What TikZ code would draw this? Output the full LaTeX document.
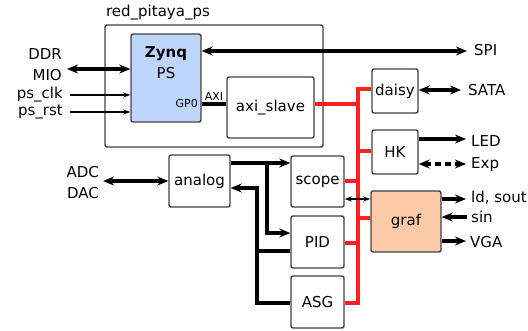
\documentclass[tikz,border=0pt]{standalone}
\usepackage{fontspec}
\setmainfont{DejaVu Sans}
\usetikzlibrary{arrows.meta}
\definecolor{psblue}{RGB}{190,214,250}
\definecolor{grafpeach}{RGB}{251,202,166}
\definecolor{busred}{RGB}{255,32,32}
\definecolor{edgegray}{RGB}{64,64,64}
\tikzset{
  blk/.style={draw=edgegray,line width=1.4pt,rounded corners=2pt,fill=white,inner sep=0pt,font=\fontsize{15}{18}\selectfont},
  lbl/.style={inner sep=0pt,font=\fontsize{15}{18}\selectfont},
  tiny/.style={inner sep=0pt,font=\fontsize{11}{13}\selectfont},
  sig/.style={line width=3.2pt},
  wire/.style={line width=1.2pt,>={Stealth[length=7pt,width=5pt]}},
  bus/.style={line width=3.2pt,draw=busred}
}
\begin{document}
\begin{tikzpicture}[x=1pt,y=-1pt,>={Stealth[length=11pt,width=9pt]}]
  \useasboundingbox (0,0) rectangle (528,331);
  \node[blk,fill=none,minimum width=218pt,minimum height=122pt] (ps) at (214,86) {};
  \node[lbl,anchor=base] (pstitle) at (158,17) {red\_pitaya\_ps};
  \node[blk,fill=psblue,minimum width=70pt,minimum height=88pt] (zynq) at (166,78) {};
  \node[lbl,anchor=base] (zynqname) at (166,58) {\textbf{Zynq}};
  \node[lbl,anchor=base] (zynqps) at (166,79) {PS};
  \node[tiny,anchor=base east] (gp) at (198,108) {GP0};
  \node[blk,minimum width=87pt,minimum height=61pt] (axi) at (270.5,107.5) {axi\_slave};
  \node[blk,minimum width=46pt,minimum height=44pt] (daisy) at (395,91) {daisy};
  \node[blk,minimum width=46pt,minimum height=44pt] (hk) at (395,152) {HK};
  \node[blk,fill=grafpeach,minimum width=70pt,minimum height=61pt] (graf) at (406,221.5) {graf};
  \node[blk,minimum width=53pt,minimum height=51pt] (scope) at (317.5,181.5) {scope};
  \node[blk,minimum width=53pt,minimum height=52pt] (pid) at (317.5,242) {PID};
  \node[blk,minimum width=53pt,minimum height=52pt] (asg) at (317.5,302) {ASG};
  \node[blk,minimum width=61pt,minimum height=52pt] (analog) at (199.5,181) {analog};

  \node[lbl,anchor=base west] (spi) at (474,56) {SPI};
  \node[lbl,anchor=base east] (ddr) at (62,60) {DDR};
  \node[lbl,anchor=base east] (mio) at (62,81) {MIO};
  \node[lbl,anchor=base east] (clk) at (63,99) {ps\_clk};
  \node[lbl,anchor=base east] (rst) at (63,116) {ps\_rst};
  \node[lbl,anchor=base east] (adc) at (99,178) {ADC};
  \node[lbl,anchor=base east] (dac) at (99,199) {DAC};
  \node[lbl,anchor=base west] (sata) at (468,96) {SATA};
  \node[lbl,anchor=base west] (led) at (471,147) {LED};
  \node[lbl,anchor=base west] (exp) at (471,169) {Exp};
  \node[lbl,anchor=base west] (ld) at (471,203) {ld, sout};
  \node[lbl,anchor=base west] (sin) at (471,223) {sin};
  \node[lbl,anchor=base west] (vga) at (470,248) {VGA};

  \coordinate (ddrend) at (67,69);
  \coordinate (adcend) at (103,181);
  \coordinate (bus) at (358,0);
  \coordinate (fan) at (267,0);
  \coordinate (ret) at (257,0);

  \draw[sig,<->] (zynq.east |- 0,51) -- (467,51);
  \draw[sig,<->] (ddrend) -- (zynq.west |- ddrend);
  \draw[wire,->] (70,95) -- (zynq.west |- 0,95);
  \draw[wire,->] (70,112) -- (zynq.west |- 0,112);
  \draw[sig] (zynq.east |- 0,104) -- (axi.west |- 0,104) node[tiny,midway,above=2pt] (axilbl) {AXI};
  \draw[sig,<->] (adcend) -- (analog.west |- adcend);

  \draw[sig,->] (analog.east |- 0,163) -- (scope.west |- 0,163);
  \draw[sig,->] (fan |- 0,163) -- (fan |- 0,233) -- (pid.west |- 0,233);
  \draw[sig,->] (asg.west |- 0,303) -- (ret |- 0,303) -- (ret |- 0,188) -- (analog.east |- 0,188);
  \draw[sig] (pid.west |- 0,251) -- (ret |- 0,251);

  \draw[bus] (daisy.west |- 0,89) -- (bus |- 0,89) -- (bus |- 0,303) -- (asg.east |- 0,303);
  \draw[bus] (axi.east |- 0,104) -- (bus |- 0,104);
  \draw[bus] (hk.west |- 0,151) -- (bus |- 0,151);
  \draw[bus] (scope.east |- 0,181) -- (bus |- 0,181);
  \draw[bus] (graf.west |- 0,218) -- (bus |- 0,218);
  \draw[bus] (pid.east |- 0,243) -- (bus |- 0,243);
  \draw[wire,<->] (scope.east |- 0,199) -- (graf.west |- 0,199);

  \draw[sig,<->] (daisy.east |- 0,90) -- (461,90);
  \draw[sig,->] (hk.east |- 0,139) -- (466,139);
  \draw[sig,<->,dash pattern=on 6pt off 4pt] (hk.east |- 0,164) -- (466,164);
  \draw[sig,->] (graf.east |- 0,199) -- (466,199);
  \draw[sig,<-] (graf.east |- 0,217) -- (467,217);
  \draw[sig,->] (graf.east |- 0,241) -- (466,241);
\end{tikzpicture}
\end{document}
